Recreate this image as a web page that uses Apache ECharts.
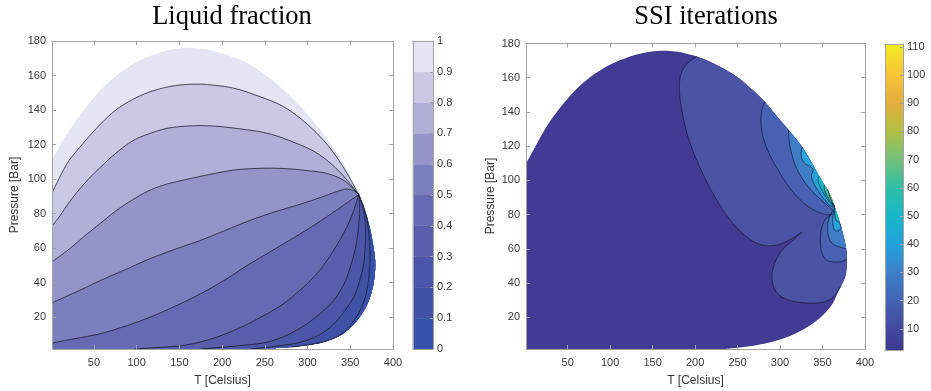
<!DOCTYPE html>
<html>
<head>
<meta charset="utf-8">
<title>Liquid fraction / SSI iterations</title>
<script src="https://cdn.jsdelivr.net/npm/echarts@6/dist/echarts.min.js"></script>
<style>
  html, body { margin: 0; padding: 0; background: #fff; }
  #chart { width: 931px; height: 391px; }
</style>
</head>
<body>
<div id="chart"></div>
<script>
// ---- axes ----
const tTicks = [50, 100, 150, 200, 250, 300, 350, 400];
const pTicks = [20, 40, 60, 80, 100, 120, 140, 160, 180];

// ---- liquid fraction panel ([T, P] pairs) ----
const lfTicks = [0, 0.1, 0.2, 0.3, 0.4, 0.5, 0.6, 0.7, 0.8, 0.9, 1];
const lfBandColors = ['#3551a9', '#4152a6', '#4c56a8', '#585eac', '#666ab3', '#7c7fbe', '#9594c9', '#b0afd8', '#cac9e5', '#e4e4f2'];

const lfEnvUpper = [[1, 111], [19, 126.5], [58, 151.6], [97, 167], [135, 174.3], [159, 176], [180, 175.2], [202, 172.4], [225, 168.3], [250, 160.5], [270, 152.5], [290, 143], [310, 131.5], [332, 117], [347, 104.5], [360, 91]];
const lfEnvLower = [[360, 91], [368, 80.5], [373.5, 70.3], [377, 61], [379.2, 52], [378.5, 44], [375.5, 35.5], [369, 26.5], [358, 18.1], [348, 13], [338.5, 9.4], [325, 6.6], [311, 4.6], [295, 3.4], [280, 2.6], [262, 2], [245, 1.5]];

const lf09 = [[1, 92], [10, 101], [20, 110], [38, 121], [58, 132], [77, 140.5], [97, 146.5], [116, 150.6], [143, 154], [171, 155], [192, 154.3], [214, 152.6], [243, 148], [272, 141.9], [298, 132.5], [323, 120], [343, 106], [360, 91]];
const lf08 = [[1, 72.7], [10, 78.5], [23, 87.8], [40, 98], [58, 107], [77, 115.5], [97, 122.6], [116, 126.5], [136, 129.4], [163, 130.8], [190, 130.7], [222, 129], [253, 126.5], [283, 121.5], [311, 115], [337, 104.5], [360, 91]];
const lf07 = [[1, 52], [20, 59], [38, 66.5], [58, 74.5], [77, 82], [97, 88.5], [116, 93.6], [135, 97], [155, 99.4], [184, 102.5], [214, 105.2], [243, 106.2], [272, 106.1], [298, 105], [323, 103.2], [343, 99], [360, 91]];
const lf06 = [[1, 28.2], [20, 32.5], [40, 37], [58, 41.3], [87, 47.5], [116, 53.9], [145, 59.3], [175, 64.5], [204, 70.3], [233, 76.1], [262, 81], [292, 85.5], [316, 89.5], [333, 92.5], [346, 94.2], [355, 93], [360, 91]];
const lf05 = [[1, 4.9], [20, 6.8], [40, 8.6], [58, 10.4], [87, 14.8], [116, 20], [145, 26.3], [175, 33.6], [204, 41.8], [233, 51], [262, 59.5], [292, 68.4], [313, 75], [331, 81], [347, 86.5], [360, 91]];
const lf04 = [[97, 1.5], [125, 2.4], [155, 3.6], [185, 7], [214, 12.3], [243, 19.3], [272, 27.8], [292, 36], [311, 45.2], [327, 56], [342, 68.4], [352, 79], [360, 91]];
const lf03 = [[175, 1.5], [215, 3.2], [253, 5.5], [278, 10], [299.5, 16.2], [316, 22.5], [330.6, 29.7], [342, 38.5], [350, 49], [356.5, 61], [360, 74], [361, 83], [360, 91]];
const lf02 = [[233, 1.5], [262, 3], [292, 5.5], [313, 9.5], [331, 16.2], [344, 24], [354, 31.6], [361, 41], [365.7, 51], [367.5, 62], [367.7, 74.2], [365, 83], [360, 91]];
const lf01 = [[280, 2.6], [300, 3.9], [322, 6.2], [338, 9.8], [350, 15.2], [360, 22.5], [367.5, 31.5], [371.5, 42], [373, 54.8], [372, 67], [369, 78], [365, 85], [360, 91]];

// ---- SSI iterations panel ----
const ssiTicks = [10, 20, 30, 40, 50, 60, 70, 80, 90, 100, 110];
const ssiBarValues = [2.5, 10, 20, 30, 40, 50, 60, 70, 80, 90, 100, 111];
const ssiBarColors = ['#3e3a8f', '#4348a0', '#4563b4', '#3d80c9', '#22a3dc', '#18b6c8', '#2fbfa8', '#72c07a', '#b0c044', '#e4ad3c', '#f6c43a', '#f3ec1f'];
const ssiBaseColor = '#433a93';

const ssiEnv = [[1, 110], [33, 137.2], [72, 158.6], [112, 170.3], [159, 175.8], [202, 172.4], [245, 162], [265, 154], [282, 146], [297, 137], [310, 129.5], [326, 119.5], [341, 107], [346, 102.5], [352, 97.5], [356, 94.5], [359, 91.5], [364, 85], [368, 79], [372, 72.5], [375.5, 66], [377.8, 60], [378.8, 54], [378.4, 48.5], [376.3, 43], [372, 38.5], [367, 33.5], [362.5, 28.5], [352, 22], [339.4, 16.7], [320, 11], [300, 7], [275, 4], [249, 2.2], [235, 1.5]];

const ssi10a = [[202, 172.4], [191, 168.5], [184, 163], [181.5, 156], [182.5, 147], [186, 137], [192, 125], [200, 114], [210, 103], [222, 91.5], [236, 80.5], [252, 71], [268, 64.5], [284, 61.8], [298, 62.5], [312, 65.5], [326, 69.8]];
const ssi10b = [[326, 69.8], [314, 64.5], [302, 59], [294, 52], [290.5, 44.5], [292.5, 38], [299, 33], [311, 30], [330, 28.4], [350, 28.8], [362, 31.5], [372, 38.5]];
const ssi20a = [[282, 146], [278.5, 141], [277.5, 133.5], [280, 125.5], [286, 117], [296, 107.5], [308, 98], [320, 90.5], [333, 84.8], [346, 81.3], [355, 80], [361.5, 80.3]];
const ssi20b = [[361.5, 80.3], [353, 77], [348.5, 71], [347.5, 64], [349.5, 57.5], [355, 53.5], [364, 52.3], [372, 52.5], [378.8, 54]];
const ssi30a = [[310, 129.5], [311, 122], [314.5, 114], [320.5, 106], [329, 99], [340, 92.5], [351, 87.5], [359, 84], [362.5, 82.5]];
const ssi30b = [[362.5, 82.5], [358, 78.5], [356, 72.5], [357.5, 66.5], [362, 63], [369, 61.3], [377.8, 60]];
const ssi40a = [[326, 119.5], [324.8, 116], [326, 112.3], [330.5, 109.5], [336, 108], [339, 106.2], [337, 102.5], [339.5, 98.5], [345, 93.8], [352, 89], [359, 85.3], [364, 85]];
const ssi40b = [[364, 85], [362.5, 80], [362, 75], [364.5, 71], [368.5, 70.5], [372, 72.5]];
const ssi50a = [[346, 102.5], [344.5, 100], [347, 96.5], [352, 92], [358, 87.5], [364, 85]];
const ssi50b = [[364, 85], [364.5, 80], [366, 76.5], [369.5, 75.5], [372, 72.5]];
const ssi60 = [[352, 97.5], [352.5, 94], [357, 89.5], [364, 85]];
const ssi70 = [[356, 94.5], [359.5, 89.5], [364, 85]];

// ---- helpers ----
// centripetal Catmull-Rom through pixel points
function spline(px, steps) {
  const n = px.length;
  if (n < 3) return px.slice();
  const ext = [[2 * px[0][0] - px[1][0], 2 * px[0][1] - px[1][1]]].concat(px,
    [[2 * px[n - 1][0] - px[n - 2][0], 2 * px[n - 1][1] - px[n - 2][1]]]);
  const knot = (a, b) => Math.max(Math.pow(Math.hypot(b[0] - a[0], b[1] - a[1]), 0.5), 1e-4);
  const lerp = (a, b, ta, tb, t) => [0, 1].map(k => ((tb - t) * a[k] + (t - ta) * b[k]) / (tb - ta));
  const out = [px[0]];
  for (let i = 1; i < ext.length - 2; i++) {
    const p0 = ext[i - 1], p1 = ext[i], p2 = ext[i + 1], p3 = ext[i + 2];
    const t0 = 0, t1 = t0 + knot(p0, p1), t2 = t1 + knot(p1, p2), t3 = t2 + knot(p2, p3);
    for (let s = 1; s <= steps; s++) {
      const t = t1 + (t2 - t1) * s / steps;
      const a1 = lerp(p0, p1, t0, t1, t), a2 = lerp(p1, p2, t1, t2, t), a3 = lerp(p2, p3, t2, t3, t);
      const b1 = lerp(a1, a2, t0, t2, t), b2 = lerp(a2, a3, t1, t3, t);
      out.push(lerp(b1, b2, t1, t2, t));
    }
  }
  return out;
}

function toPixels(pieces, api) {
  let out = [];
  pieces.forEach(pts => { out = out.concat(spline(pts.map(p => api.coord(p)), 12)); });
  return out;
}

function nearest(env, p) {
  let best = 0, bd = Infinity;
  env.forEach((q, i) => {
    const d = (q[0] - p[0]) ** 2 + (q[1] - p[1]) ** 2;
    if (d < bd) { bd = d; best = i; }
  });
  return best;
}

function envArc(env, from, to) {
  const a = nearest(env, from), b = nearest(env, to);
  return a <= b ? env.slice(a, b + 1) : env.slice(b, a + 1).reverse();
}

// liquid fraction regions, painted from the whole envelope inwards
const lfRegions = [{ pieces: [lfEnvUpper, lfEnvLower, [[1, 1.5]]], color: lfBandColors[9] }];
[lf09, lf08, lf07, lf06, lf05, lf04, lf03, lf02, lf01].forEach((c, i) => {
  const pieces = [c, lfEnvLower];
  if (c[0][0] <= 1) pieces.push([[1, 1.5]]);
  lfRegions.push({ pieces, color: lfBandColors[8 - i] });
});
const lfLines = [lf09, lf08, lf07, lf06, lf05, lf04, lf03, lf02, lf01];

// SSI regions: each contour closed along the envelope
function ssiRegion(contours, color) {
  const start = contours[0][0];
  const last = contours[contours.length - 1];
  const end = last[last.length - 1];
  return { pieces: contours.concat([envArc(ssiEnv, end, start)]), color };
}
const ssiRegions = [
  { pieces: [ssiEnv, [[1, 1.5]]], color: ssiBaseColor },
  ssiRegion([ssi10a, ssi10b], '#4b53a5'),
  ssiRegion([ssi20a, ssi20b], '#4862b3'),
  ssiRegion([ssi30a, ssi30b], '#3f7dc6'),
  ssiRegion([ssi40a], '#27a3db'),
  ssiRegion([ssi40b], '#27a3db'),
  ssiRegion([ssi50a], '#1cb5c5'),
  ssiRegion([ssi50b], '#1cb5c5'),
  ssiRegion([ssi60], '#3dbf9c'),
  ssiRegion([ssi70], '#8ec15a')
];
const ssiLines = [ssi10a, ssi10b, ssi20a, ssi20b, ssi30a, ssi30b, ssi40a, ssi40b, ssi50a, ssi50b, ssi60, ssi70];

function fillSeries(regions, xi, yi) {
  return {
    type: 'custom', xAxisIndex: xi, yAxisIndex: yi, clip: true, silent: true, z: 2,
    data: regions.map((r, i) => [i, 0]),
    renderItem: (params, api) => ({
      type: 'polygon',
      shape: { points: toPixels(regions[params.dataIndex].pieces, api) },
      style: { fill: regions[params.dataIndex].color, stroke: null }
    })
  };
}

function lineSeries(lines, xi, yi, color) {
  return {
    type: 'custom', xAxisIndex: xi, yAxisIndex: yi, clip: true, silent: true, z: 3,
    data: lines.map((l, i) => [i, 0]),
    renderItem: (params, api) => ({
      type: 'polyline',
      shape: { points: toPixels([lines[params.dataIndex]], api) },
      style: { stroke: color, lineWidth: 0.8, fill: null }
    })
  };
}

const gray = '#a3a3a3';
const labelFont = 'Liberation Sans, Arial, sans-serif';

function axis(extra) {
  return Object.assign({
    type: 'value', z: 10,
    axisLine: { show: true, onZero: false, lineStyle: { color: gray, width: 1 } },
    axisTick: { show: false },
    axisLabel: { show: false },
    splitLine: { show: false }
  }, extra);
}
function ticks(values, len) {
  return { show: true, inside: true, length: len, customValues: values, lineStyle: { color: gray } };
}
function labels(values, margin) {
  return { show: true, customValues: values, margin, color: '#3a3a3a', fontSize: 11, fontFamily: labelFont };
}

const chart = echarts.init(document.getElementById('chart'));

chart.setOption({
  animation: false,
  backgroundColor: '#ffffff',
  grid: [
    { left: 52, top: 41, width: 341, height: 308 },
    { left: 526, top: 43.5, width: 339, height: 305.5 },
    { left: 413, top: 41, width: 20, height: 308 },
    { left: 885, top: 44, width: 18, height: 306 }
  ],
  xAxis: [
    axis({ gridIndex: 0, min: 1, max: 400, position: 'bottom', axisTick: ticks(tTicks, 4), axisLabel: labels(tTicks, 8) }),
    axis({ gridIndex: 0, min: 1, max: 400, position: 'top', axisTick: ticks(tTicks, 4) }),
    axis({ gridIndex: 1, min: 1, max: 400, position: 'bottom', axisTick: ticks(tTicks, 4), axisLabel: labels(tTicks, 8) }),
    axis({ gridIndex: 1, min: 1, max: 400, position: 'top', axisTick: ticks(tTicks, 4) }),
    axis({ gridIndex: 2, min: 0, max: 1, position: 'bottom' }),
    axis({ gridIndex: 2, min: 0, max: 1, position: 'top' }),
    axis({ gridIndex: 3, min: 0, max: 1, position: 'bottom' }),
    axis({ gridIndex: 3, min: 0, max: 1, position: 'top' })
  ],
  yAxis: [
    axis({ gridIndex: 0, min: 1.5, max: 180, position: 'left', axisTick: ticks(pTicks, 4), axisLabel: labels(pTicks, 6) }),
    axis({ gridIndex: 0, min: 1.5, max: 180, position: 'right', axisTick: ticks(pTicks, 4) }),
    axis({ gridIndex: 1, min: 1.5, max: 180, position: 'left', axisTick: ticks(pTicks, 4), axisLabel: labels(pTicks, 6) }),
    axis({ gridIndex: 1, min: 1.5, max: 180, position: 'right', axisTick: ticks(pTicks, 4) }),
    axis({ gridIndex: 2, min: 0, max: 1, position: 'left' }),
    axis({ gridIndex: 2, min: 0, max: 1, position: 'right', axisTick: ticks(lfTicks, 3), axisLabel: labels(lfTicks, 4) }),
    axis({ gridIndex: 3, min: 2.5, max: 111, position: 'left' }),
    axis({ gridIndex: 3, min: 2.5, max: 111, position: 'right', axisTick: ticks(ssiTicks, 3), axisLabel: labels(ssiTicks, 4) })
  ],
  graphic: [
    { type: 'text', x: 232, y: 17, style: { text: 'Liquid fraction', font: '26.5px "Liberation Serif", "Times New Roman", serif', fill: '#000', align: 'center', verticalAlign: 'middle' } },
    { type: 'text', x: 706, y: 17, style: { text: 'SSI iterations', font: '26.5px "Liberation Serif", "Times New Roman", serif', fill: '#000', align: 'center', verticalAlign: 'middle' } },
    { type: 'text', x: 222.5, y: 381, style: { text: 'T [Celsius]', font: '12px "Liberation Sans", Arial, sans-serif', fill: '#333', align: 'center', verticalAlign: 'middle' } },
    { type: 'text', x: 695.5, y: 381, style: { text: 'T [Celsius]', font: '12px "Liberation Sans", Arial, sans-serif', fill: '#333', align: 'center', verticalAlign: 'middle' } },
    { type: 'text', x: 15, y: 195, rotation: Math.PI / 2, style: { text: 'Pressure [Bar]', font: '12px "Liberation Sans", Arial, sans-serif', fill: '#333', align: 'center', verticalAlign: 'middle' } },
    { type: 'text', x: 490.5, y: 196, rotation: Math.PI / 2, style: { text: 'Pressure [Bar]', font: '12px "Liberation Sans", Arial, sans-serif', fill: '#333', align: 'center', verticalAlign: 'middle' } }
  ],
  series: [
    fillSeries(lfRegions, 0, 0),
    lineSeries(lfLines, 0, 0, '#1b1b2b'),
    fillSeries(ssiRegions, 2, 2),
    lineSeries(ssiLines, 2, 2, '#1a1a3a'),
    {
      // stepped colour bar for the liquid fraction levels
      type: 'custom', xAxisIndex: 4, yAxisIndex: 5, silent: true,
      data: lfBandColors.map((c, i) => [i, lfTicks[i]]),
      renderItem: (params, api) => {
        const i = params.dataIndex;
        const a = api.coord([0, lfTicks[i + 1]]);
        const b = api.coord([1, lfTicks[i]]);
        return { type: 'rect', shape: { x: a[0], y: a[1], width: b[0] - a[0], height: b[1] - a[1] }, style: { fill: lfBandColors[i], stroke: lfBandColors[i], lineWidth: 0.5 } };
      }
    },
    {
      // continuous colour bar for the iteration counts
      type: 'custom', xAxisIndex: 6, yAxisIndex: 7, silent: true,
      data: [[0, ssiBarValues[0]]],
      renderItem: (params, api) => {
        const lo = ssiBarValues[0], hi = ssiBarValues[ssiBarValues.length - 1];
        const a = api.coord([0, hi]);
        const b = api.coord([1, lo]);
        const stops = ssiBarValues.map((v, i) => ({ offset: (v - lo) / (hi - lo), color: ssiBarColors[i] }));
        return { type: 'rect', shape: { x: a[0], y: a[1], width: b[0] - a[0], height: b[1] - a[1] }, style: { fill: new echarts.graphic.LinearGradient(0, 1, 0, 0, stops) } };
      }
    }
  ]
});
</script>
</body>
</html>
